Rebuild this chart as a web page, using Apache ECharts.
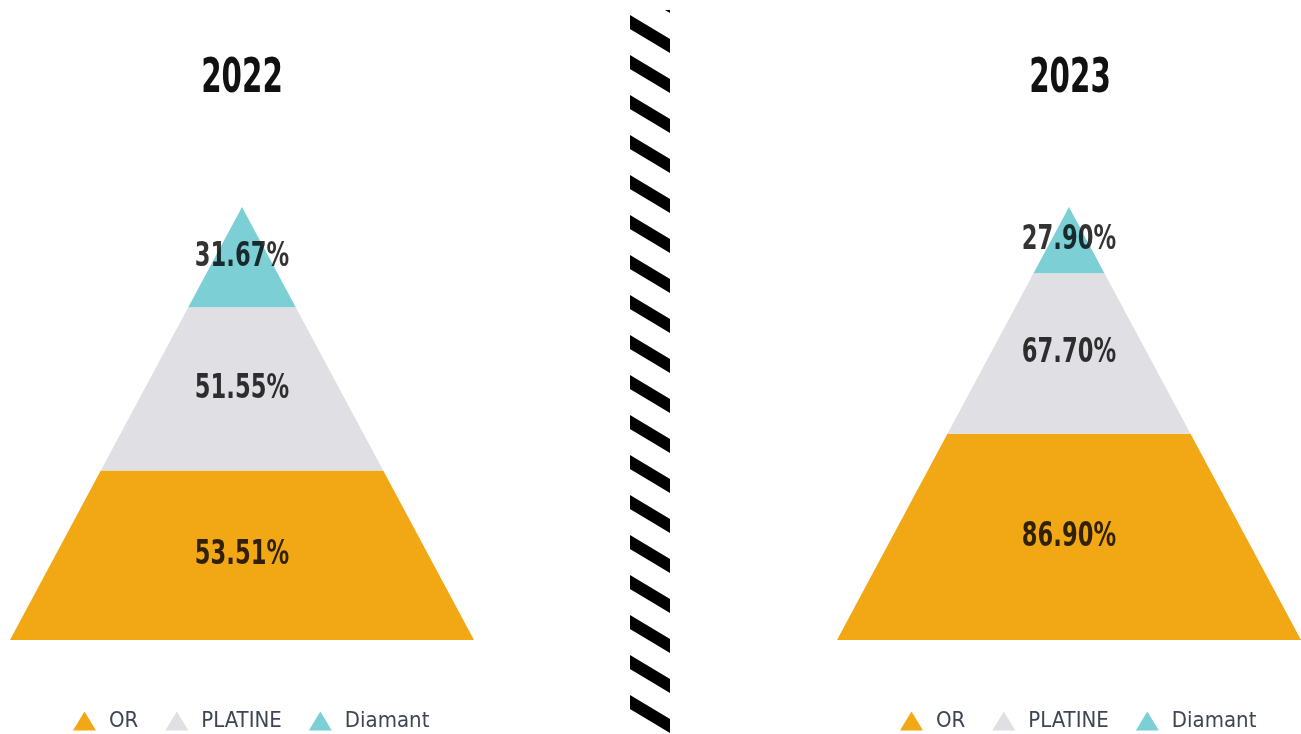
<!DOCTYPE html>
<html>
<head>
<meta charset="UTF-8">
<script src="https://cdn.jsdelivr.net/npm/echarts@6/dist/echarts.min.js"></script>
<style>
html,body{margin:0;padding:0;background:#fff;}
#chart{width:1301px;height:734px;}
</style>
</head>
<body>
<div id="chart"></div>
<script>
// données
var years = ['2022', '2023'];
var categories = ['OR', 'PLATINE', 'Diamant'];
var values2022 = [53.51, 51.55, 31.67];
var values2023 = [86.90, 67.70, 27.90];
var colors = ['#F2A714', '#DFDFE4', '#7BCFD5'];

var FONT = "'Liberation Sans Narrow', 'DejaVu Sans Condensed', sans-serif";
var allValues = [values2022, values2023];

function sum(arr){ var s = 0; for (var i = 0; i < arr.length; i++) s += arr[i]; return s; }

// un segment de pyramide: hauteur proportionnelle a la valeur
function segmentRenderer(vals, c){
	return function(params, api){
		var total = sum(vals);
		var base = sum(vals.slice(0, c));
		var top = base + vals[c];
		var wb = 1 - base / total, wt = 1 - top / total;
		var pts = [
			api.coord([-wb, base]), api.coord([wb, base]),
			api.coord([wt, top]), api.coord([-wt, top])
		];
		var mid = api.coord([0, (base + top) / 2]);
		return {
			type: 'group',
			children: [
				{ type: 'polygon', shape: { points: pts }, style: { fill: colors[c] } },
				{ type: 'text', x: mid[0], y: mid[1], z2: 10, scaleX: 0.74, style: {
					text: vals[c].toFixed(2) + '%', align: 'center', verticalAlign: 'middle',
					font: 'bold 34px ' + FONT, fill: 'rgba(0,0,0,0.8)' } }
			]
		};
	};
}

var series = [];
for (var p = 0; p < 2; p++) {
	for (var c = 0; c < categories.length; c++) {
		series.push({
			type: 'custom', name: categories[c],
			xAxisIndex: p, yAxisIndex: p,
			itemStyle: { color: colors[c] },
			data: [[0, 0]],
			renderItem: segmentRenderer(allValues[p], c),
			silent: true
		});
	}
}

// séparateur hachuré
var stripes = [{ type: 'polygon', shape: { points: [[665, 10], [670, 10], [670, 13]] }, style: { fill: '#000' } }];
for (var k = 0; k < 18; k++) {
	var y0 = 15 + 40 * k;
	stripes.push({ type: 'polygon', shape: { points: [[630, y0], [670, y0 + 24], [670, y0 + 38], [630, y0 + 14]] }, style: { fill: '#000' } });
}

// titres (texte condensé)
var titleX = [242, 1070];
var titles = [];
for (var t = 0; t < years.length; t++) {
	titles.push({ type: 'text', x: titleX[t], y: 80, scaleX: 0.68, style: {
		text: years[t], align: 'center', verticalAlign: 'middle',
		font: 'bold 48px ' + FONT, fill: '#111' } });
}

var legendBase = {
	data: categories, icon: 'triangle', orient: 'horizontal',
	itemWidth: 23, itemHeight: 19, itemGap: 27, top: 705,
	textStyle: { fontFamily: FONT, fontSize: 22, color: '#3E4656', padding: [0, 0, 0, 8] },
	selectedMode: false
};

var option = {
	animation: false,
	legend: [
		Object.assign({}, legendBase, { left: 68 }),
		Object.assign({}, legendBase, { left: 895 })
	],
	grid: [
		{ left: 10, top: 207, width: 464, height: 433 },
		{ left: 837, top: 207, width: 464, height: 433 }
	],
	xAxis: [
		{ gridIndex: 0, type: 'value', min: -1, max: 1, show: false },
		{ gridIndex: 1, type: 'value', min: -1, max: 1, show: false }
	],
	yAxis: [
		{ gridIndex: 0, type: 'value', min: 0, max: sum(values2022), show: false },
		{ gridIndex: 1, type: 'value', min: 0, max: sum(values2023), show: false }
	],
	graphic: [{ type: 'group', children: stripes.concat(titles) }],
	series: series
};

var myChart = echarts.init(document.getElementById('chart'));
myChart.setOption(option);
</script>
</body>
</html>
